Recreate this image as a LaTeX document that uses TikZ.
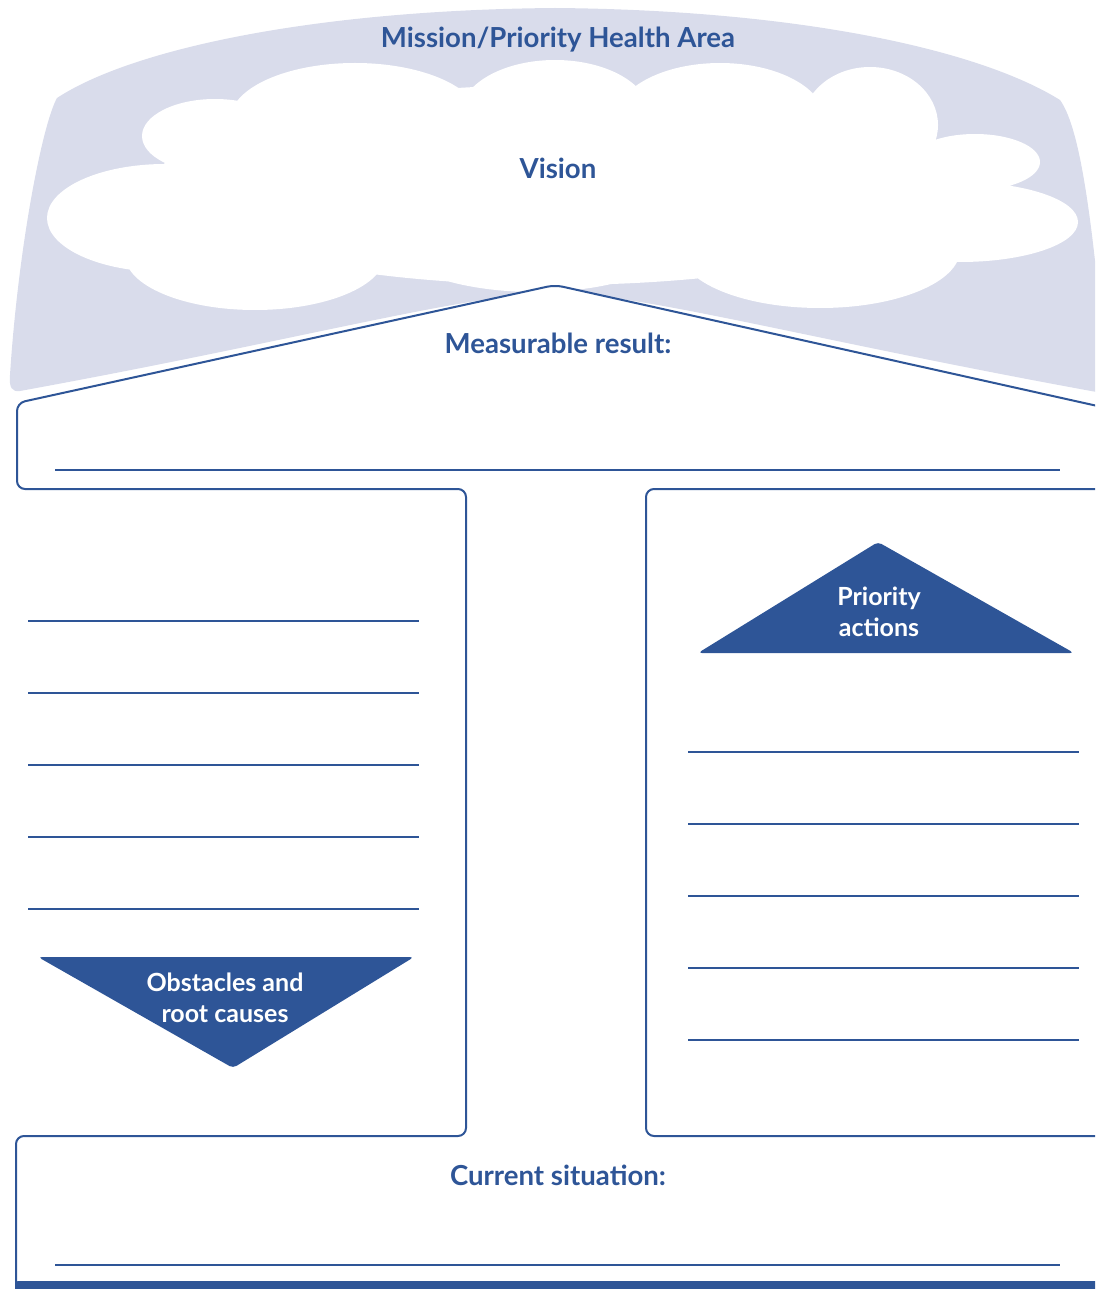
\documentclass[tikz,border=0pt]{standalone}
\usepackage{fontspec}
\setmainfont{Lato}
\usetikzlibrary{positioning}
\definecolor{planblue}{HTML}{2E5597}
\definecolor{planmist}{HTML}{D9DCEB}
\tikzset{
  frame/.style={draw=planblue, line width=2pt, rounded corners=8pt},
  rule/.style={draw=planblue, line width=1.1pt},
  heading/.style={text=planblue, font=\fontsize{27.6}{32}\selectfont\bfseries},
  badge/.style={fill=planblue, rounded corners=4pt},
  badgetext/.style={text=white, align=center, font=\fontsize{25}{31}\selectfont\bfseries},
}

\begin{document}
\begin{tikzpicture}[x=1pt, y=-1pt]
	\useasboundingbox (0,0) rectangle (1095,1289);
	\clip (0,0) rectangle (1095,1289);

	% sky band
	\fill[planmist] (20,391) .. controls (300,340) and (470,293) .. (555,293)
		.. controls (640,293) and (810,340) .. (1102,393) -- (1102,330)
		.. controls (1090,200) and (1078,125) .. (1060,100)
		.. controls (980,50) and (800,10) .. (555,8)
		.. controls (310,10) and (130,50) .. (57,98)
		.. controls (42,125) and (18,250) .. (10,375)
		.. controls (9,388) and (12,392) .. cycle;

	% cloud
	\fill[white]
		(165,218) ellipse [x radius=118, y radius=54]
		(215,136) ellipse [x radius=73, y radius=37]
		(355,120) ellipse [x radius=125, y radius=57]
		(555,115) ellipse [x radius=95, y radius=55]
		(720,120) ellipse [x radius=105, y radius=57]
		(870,125) ellipse [x radius=68, y radius=58]
		(975,162) ellipse [x radius=65, y radius=28]
		(960,222) ellipse [x radius=118, y radius=40]
		(820,250) ellipse [x radius=140, y radius=58]
		(535,230) ellipse [x radius=155, y radius=62]
		(255,255) ellipse [x radius=130, y radius=55]
		(555,185) ellipse [x radius=400, y radius=100];

	% house
	\fill[white] (17,403) -- (555,285) -- (1102,406) -- (1102,489) -- (17,489) -- cycle;
	\draw[frame] (1102,407) -- (555,285) -- (17,403) -- (17,489) -- (466,489)
		-- (466,1136) -- (16,1136) -- (16,1284);
	\draw[frame] (1102,489) -- (646,489) -- (646,1136) -- (1102,1136);
	\fill[planblue, rounded corners=3pt] (15,1281) rectangle (1102,1295);

	% writing lines
	\draw[rule] (55,470) -- (1060,470);
	\draw[rule] (55,1265) -- (1060,1265);
	\foreach \y in {621,693,765,837,909}
		\draw[rule] (28,\y) -- (419,\y);
	\foreach \y in {752,824,896,968,1040}
		\draw[rule] (688,\y) -- (1079,\y);

	% arrows
	\fill[badge] (38,957) -- (414,957) -- (233,1068) -- cycle;
	\fill[badge] (878,542) -- (1074,653) -- (698,653) -- cycle;

	\node[heading] (mission) at (558,40) {Mission/Priority Health Area};
	\node[heading] (vision) at (558,168) {Vision};
	\node[heading] (result) at (558,343) {Measurable result:};
	\node[heading] (current) at (558,1175) {Current situation:};
	\node[badgetext] (obstacles) at (225,998) {Obstacles and\\root causes};
	\node[badgetext] (actions) at (879,612) {Priority\\actions};
\end{tikzpicture}
\end{document}
